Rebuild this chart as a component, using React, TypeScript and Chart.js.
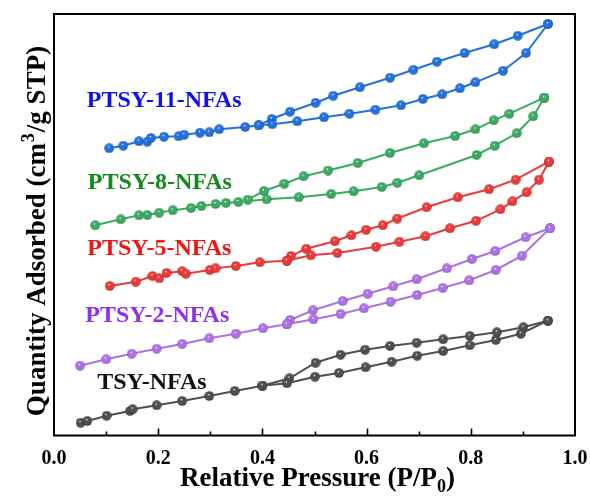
import React, { useEffect, useRef } from "react";
import { Chart, registerables } from "chart.js";

Chart.register(...registerables);

// ---- Data (P/P0, quantity adsorbed in arbitrary units; y axis carries no ticks) ----
const TSY_ADS_P = [0.051, 0.064, 0.101, 0.146, 0.151, 0.197, 0.246, 0.298, 0.347, 0.400, 0.447, 0.501, 0.547, 0.598, 0.648, 0.697, 0.747, 0.798, 0.848, 0.896, 0.948];
const TSY_ADS_V = [12.8, 14.5, 19.8, 24.5, 26.2, 30.2, 34.5, 39.5, 44.5, 49.8, 52.2, 58.8, 62.5, 68.2, 73.8, 79.8, 84.5, 90.2, 95.5, 101.8, 114.8];
const TSY_DES_P = [0.948, 0.901, 0.850, 0.798, 0.747, 0.696, 0.645, 0.597, 0.550, 0.502, 0.452, 0.400];
const TSY_DES_V = [114.8, 108.2, 103.2, 99.5, 96.2, 92.8, 89.5, 85.8, 80.8, 72.8, 57.2, 49.8];

const P2_ADS_P = [0.050, 0.100, 0.149, 0.197, 0.246, 0.298, 0.349, 0.401, 0.447, 0.498, 0.550, 0.595, 0.646, 0.697, 0.746, 0.797, 0.848, 0.898, 0.952];
const P2_ADS_V = [69.8, 76.2, 81.8, 86.8, 91.5, 97.2, 101.8, 107.2, 111.2, 116.2, 121.5, 127.2, 133.8, 140.5, 147.5, 155.2, 165.5, 179.8, 207.2];
const P2_DES_P = [0.952, 0.905, 0.847, 0.802, 0.754, 0.696, 0.651, 0.602, 0.554, 0.497, 0.453, 0.447];
const P2_DES_V = [207.2, 198.2, 184.5, 176.5, 167.2, 156.2, 149.2, 141.8, 134.5, 125.2, 115.5, 111.2];

const P5_ADS_P = [0.107, 0.157, 0.189, 0.202, 0.216, 0.246, 0.253, 0.299, 0.310, 0.349, 0.395, 0.447, 0.493, 0.544, 0.618, 0.663, 0.713, 0.760, 0.810, 0.857, 0.880, 0.907, 0.931, 0.950];
const P5_ADS_V = [149.5, 153.8, 159.5, 157.2, 162.5, 164.2, 161.8, 165.5, 167.2, 169.5, 173.2, 174.8, 180.2, 182.5, 188.8, 193.8, 199.2, 207.2, 214.7, 226.2, 234.2, 243.2, 255.8, 273.8];
const P5_DES_P = [0.950, 0.886, 0.835, 0.775, 0.715, 0.659, 0.631, 0.599, 0.571, 0.539, 0.484, 0.455, 0.447];
const P5_DES_V = [273.8, 255.8, 246.2, 238.2, 228.2, 217.0, 210.3, 205.7, 200.2, 194.2, 186.8, 179.5, 174.8];

const P8_ADS_P = [0.079, 0.128, 0.163, 0.179, 0.202, 0.228, 0.263, 0.283, 0.310, 0.330, 0.354, 0.408, 0.470, 0.532, 0.575, 0.629, 0.659, 0.701, 0.811, 0.846, 0.888, 0.920, 0.941];
const P8_ADS_V = [210.2, 216.2, 220.2, 220.5, 222.8, 225.2, 227.5, 229.5, 231.5, 232.5, 233.5, 236.2, 238.2, 241.5, 244.2, 248.5, 252.8, 260.2, 280.5, 289.8, 302.2, 319.2, 337.8];
const P8_DES_P = [0.941, 0.874, 0.844, 0.809, 0.770, 0.710, 0.645, 0.583, 0.526, 0.479, 0.442, 0.403, 0.372];
const P8_DES_V = [337.8, 321.8, 315.2, 306.2, 299.5, 292.2, 282.5, 272.5, 265.0, 259.2, 251.8, 244.5, 235.8];

const P11_ADS_P = [0.106, 0.133, 0.163, 0.179, 0.186, 0.211, 0.239, 0.250, 0.280, 0.298, 0.317, 0.367, 0.393, 0.419, 0.467, 0.518, 0.567, 0.617, 0.666, 0.708, 0.745, 0.779, 0.809, 0.862, 0.906, 0.948];
const P11_ADS_V = [287.2, 289.8, 294.2, 293.8, 297.5, 298.8, 299.2, 300.8, 302.8, 303.2, 306.2, 308.5, 310.2, 311.2, 314.2, 318.2, 321.8, 325.8, 330.2, 336.5, 341.2, 347.2, 353.2, 364.8, 382.5, 411.5];
const P11_DES_P = [0.948, 0.890, 0.845, 0.788, 0.735, 0.690, 0.645, 0.587, 0.536, 0.502, 0.453, 0.418, 0.393];
const P11_DES_V = [411.5, 399.8, 391.2, 382.5, 373.8, 365.8, 357.8, 348.2, 339.8, 332.8, 323.8, 316.5, 310.2];

const SAMPLE_NAMES = ["TSY-NFAs", "PTSY-2-NFAs", "PTSY-5-NFAs", "PTSY-8-NFAs", "PTSY-11-NFAs"];
const X_TICKS = [0, 0.2, 0.4, 0.6, 0.8, 1.0];
const X_TITLE = "Relative Pressure (P/P";
const Y_TITLE_A = "Quantity Adsorbed (cm";
const Y_TITLE_B = "/g STP)";

// ---- Styles ----
const LINE_COLORS = ["#505050", "#ad72e3", "#ea3b3b", "#3cab62", "#2271dd"];
const DARK_COLORS = ["#2a2a2a", "#7a45b5", "#b01c1c", "#207640", "#1450a8"];
const TEXT_COLORS = ["#111111", "#9030f0", "#f01414", "#118a1e", "#1010f0"];
// label anchors (left, baseline) in data coordinates
const LABEL_ANCHORS = [
  { x: 0.083, y: 47 },
  { x: 0.060, y: 113.5 },
  { x: 0.064, y: 181 },
  { x: 0.065, y: 247 },
  { x: 0.063, y: 328.5 },
];
const SERIF = '"Liberation Serif", "Times New Roman", serif';

function makeSphere(color: string, dark: string): HTMLCanvasElement {
  const c = document.createElement("canvas");
  c.width = 10;
  c.height = 10;
  const g = c.getContext("2d")!;
  const grad = g.createRadialGradient(4.3, 3.6, 0.2, 5, 5, 5.2);
  grad.addColorStop(0, "#ffffff");
  grad.addColorStop(0.2, color);
  grad.addColorStop(0.7, color);
  grad.addColorStop(1, dark);
  g.fillStyle = grad;
  g.beginPath();
  g.arc(5, 5, 4.8, 0, Math.PI * 2);
  g.fill();
  return c;
}

const pairs = (p: number[], v: number[]) => p.map((x, i) => ({ x, y: v[i] }));

const decorPlugin = {
  id: "decor",
  afterDraw(chart: any) {
    const { ctx, chartArea, scales } = chart;
    const xs = scales.x;
    const ys = scales.y;
    ctx.save();
    // frame
    ctx.strokeStyle = "#000";
    ctx.lineWidth = 2;
    ctx.strokeRect(chartArea.left, chartArea.top, chartArea.right - chartArea.left, chartArea.bottom - chartArea.top);
    // inward ticks
    ctx.lineWidth = 1.6;
    for (let i = 1; i < 10; i++) {
      const px = Math.round(xs.getPixelForValue(i / 10)) + 0.5;
      const len = i % 2 === 0 ? 7 : 4;
      ctx.beginPath();
      ctx.moveTo(px, chartArea.bottom);
      ctx.lineTo(px, chartArea.bottom - len);
      ctx.stroke();
    }
    // sample labels
    ctx.font = `bold 24px ${SERIF}`;
    ctx.textBaseline = "alphabetic";
    ctx.textAlign = "left";
    SAMPLE_NAMES.forEach((name, i) => {
      ctx.fillStyle = TEXT_COLORS[i];
      ctx.fillText(name, xs.getPixelForValue(LABEL_ANCHORS[i].x), ys.getPixelForValue(LABEL_ANCHORS[i].y));
    });
    // x title
    ctx.fillStyle = "#000";
    const big = `bold 27px ${SERIF}`;
    const small = `bold 18px ${SERIF}`;
    ctx.font = big;
    const wA = ctx.measureText(X_TITLE).width;
    const wC = ctx.measureText(")").width;
    ctx.font = small;
    const wB = ctx.measureText("0").width;
    const total = wA + wB + wC;
    const cx = (chartArea.left + chartArea.right) / 2 + 3;
    const x0 = cx - total / 2;
    const by = 486;
    ctx.font = big;
    ctx.fillText(X_TITLE, x0, by);
    ctx.font = small;
    ctx.fillText("0", x0 + wA, by + 6);
    ctx.font = big;
    ctx.fillText(")", x0 + wA + wB, by);
    // y title
    ctx.translate(45, 232);
    ctx.rotate(-Math.PI / 2);
    ctx.font = big;
    const yA = ctx.measureText(Y_TITLE_A).width;
    const yC = ctx.measureText(Y_TITLE_B).width;
    ctx.font = small;
    const yB = ctx.measureText("3").width;
    const yt = yA + yB + yC;
    const s = -yt / 2;
    ctx.font = big;
    ctx.fillText(Y_TITLE_A, s, 0);
    ctx.font = small;
    ctx.fillText("3", s + yA + 1, -11);
    ctx.font = big;
    ctx.fillText(Y_TITLE_B, s + yA + yB + 2, 0);
    ctx.restore();
  },
};

export default function App() {
  const ref = useRef<HTMLCanvasElement | null>(null);
  useEffect(() => {
    document.body.style.margin = "0";
    const canvas = ref.current!;
    const series = [
      [TSY_ADS_P, TSY_ADS_V, TSY_DES_P, TSY_DES_V],
      [P2_ADS_P, P2_ADS_V, P2_DES_P, P2_DES_V],
      [P5_ADS_P, P5_ADS_V, P5_DES_P, P5_DES_V],
      [P8_ADS_P, P8_ADS_V, P8_DES_P, P8_DES_V],
      [P11_ADS_P, P11_ADS_V, P11_DES_P, P11_DES_V],
    ];
    const datasets: any[] = [];
    series.forEach((s, i) => {
      const sphere = makeSphere(LINE_COLORS[i], DARK_COLORS[i]);
      const common = {
        showLine: true,
        borderColor: LINE_COLORS[i],
        backgroundColor: LINE_COLORS[i],
        borderWidth: 2,
        pointStyle: sphere,
        pointRadius: 5,
        tension: 0,
        clip: false,
      };
      datasets.push({ ...common, label: SAMPLE_NAMES[i] + " ads", data: pairs(s[0], s[1]) });
      datasets.push({ ...common, label: SAMPLE_NAMES[i] + " des", data: pairs(s[2], s[3]) });
    });
    const chart = new Chart(canvas, {
      type: "scatter",
      data: { datasets },
      options: {
        animation: false,
        responsive: false,
        devicePixelRatio: 1,
        layout: { padding: { left: 54, top: 14, right: 15, bottom: 0 } },
        plugins: { legend: { display: false }, tooltip: { enabled: false } },
        scales: {
          x: {
            type: "linear",
            min: 0,
            max: 1,
            afterFit: (sc: any) => {
              sc.height = 61.5;
              sc.paddingLeft = 0;
              sc.paddingRight = 0;
            },
            afterBuildTicks: (sc: any) => {
              sc.ticks = X_TICKS.map((v) => ({ value: v }));
            },
            grid: { display: false, drawTicks: false },
            border: { display: false },
            ticks: {
              padding: 11,
              color: "#000",
              font: { family: SERIF, size: 20, weight: "bold" },
              callback: (v: any) => Number(v).toFixed(1),
              maxRotation: 0,
            },
          },
          y: {
            type: "linear",
            display: false,
            min: 0,
            max: 421.5,
          },
        },
      },
      plugins: [decorPlugin],
    });
    return () => chart.destroy();
  }, []);
  return (
    <div style={{ width: 590, height: 497 }}>
      <canvas ref={ref} width={590} height={497} />
    </div>
  );
}
